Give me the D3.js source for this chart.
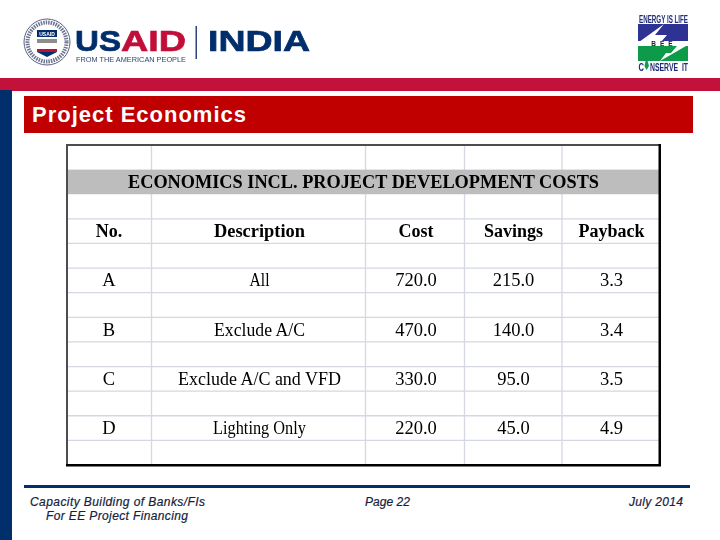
<!DOCTYPE html>
<html>
<head>
    <meta charset="UTF-8">
    <title>Project Economics</title>
    <script src="https://d3js.org/d3.v7.min.js"></script>
    <style type="text/css">
        html, body { margin: 0; padding: 0; background: #fff; }
        svg { display: block; }
        .sans { font-family: "Liberation Sans", Arial, sans-serif; }
        .serif { font-family: "Liberation Serif", "Times New Roman", serif; }
    </style>
</head>
<body>
    <svg id="slide"></svg>

    <script>
        const slideTitle = "Project Economics";
        const tableTitle = "ECONOMICS INCL. PROJECT DEVELOPMENT COSTS";
        const columns = ["No.", "Description", "Cost", "Savings", "Payback"];
        const ids = ["A", "B", "C", "D"];
        const descriptions = ["All", "Exclude A/C", "Exclude A/C and VFD", "Lighting Only"];
        const costs = [720.0, 470.0, 330.0, 220.0];
        const savings = [215.0, 140.0, 95.0, 45.0];
        const paybacks = [3.3, 3.4, 3.5, 4.9];
        const footerLeft = ["Capacity Building of Banks/FIs", "For EE Project Financing"];
        const footerPage = "Page 22";
        const footerDate = "July 2014";

        const navy = "#002f6c";
        const usaidRed = "#c2113a";
        const beeBlue = "#2e3192";
        const beeGreen = "#0f9b4a";

        const svg = d3.select("#slide").attr("width", 720).attr("height", 540);
        svg.append("rect").attr("width", 720).attr("height", 540).attr("fill", "#fff");

        // the original is a scanned-looking slide image, so soften logos and table a bit
        svg.append("defs").append("filter").attr("id", "soft")
            .attr("x", "-5%").attr("y", "-5%").attr("width", "110%").attr("height", "110%")
            .append("feGaussianBlur").attr("stdDeviation", 0.35);

        const addRect = (parent, x, y, w, h, fill) => parent.append("rect")
            .attr("x", x).attr("y", y).attr("width", w).attr("height", h).attr("fill", fill);

        // slide frame
        addRect(svg, 0, 78, 720, 13, usaidRed);
        addRect(svg, 0, 90, 12, 450, navy);
        addRect(svg, 24, 96, 669, 37, "#c00000");
        svg.append("text").attr("class", "sans")
            .attr("x", 32).attr("y", 122)
            .attr("font-size", 22).attr("font-weight", "bold")
            .attr("fill", "#fff").attr("textLength", 214)
            .text(slideTitle);

        // USAID logo
        const logo = svg.append("g").attr("filter", "url(#soft)");
        logo.append("circle").attr("cx", 47).attr("cy", 42).attr("r", 23)
            .attr("fill", "#fff").attr("stroke", "#55607f").attr("stroke-width", 1);
        logo.append("circle").attr("cx", 47).attr("cy", 42).attr("r", 19.5)
            .attr("fill", "none").attr("stroke", "#6d7490").attr("stroke-width", 4)
            .attr("stroke-dasharray", "1.5 1");
        addRect(logo, 37, 30, 20, 7, navy);
        logo.append("text").attr("class", "sans")
            .attr("x", 47).attr("y", 35.5).attr("text-anchor", "middle")
            .attr("font-size", 5).attr("font-weight", "bold").attr("fill", "#fff")
            .text("USAID");
        addRect(logo, 37, 39, 20, 4, "#8d8d8d");
        addRect(logo, 37, 49, 20, 3, usaidRed);
        logo.append("path").attr("d", "M37,52 H57 L47,57 Z").attr("fill", navy);

        const wordmark = (text, x, width, fill) => logo.append("text").attr("class", "sans")
            .attr("x", x).attr("y", 50.5).attr("font-size", 30).attr("font-weight", "bold")
            .attr("fill", fill).attr("stroke", fill).attr("stroke-width", 0.7)
            .attr("textLength", width).attr("lengthAdjust", "spacingAndGlyphs")
            .text(text);
        wordmark("US", 75, 46, navy);
        wordmark("AID", 121, 65, usaidRed);
        wordmark("INDIA", 208, 102, navy);
        logo.append("text").attr("class", "sans")
            .attr("x", 76).attr("y", 62).attr("font-size", 7)
            .attr("fill", "#2d4474").attr("textLength", 110).attr("lengthAdjust", "spacingAndGlyphs")
            .text("FROM THE AMERICAN PEOPLE");
        addRect(logo, 195.5, 26, 1.5, 33, "#2d4474");

        // BEE logo
        const bee = svg.append("g").attr("filter", "url(#soft)");
        const beeText = (text, x, y, size, width) => bee.append("text").attr("class", "sans")
            .attr("x", x).attr("y", y).attr("font-size", size).attr("font-weight", "bold")
            .attr("fill", "#1f2a78").attr("textLength", width).attr("lengthAdjust", "spacingAndGlyphs")
            .style("white-space", "pre")
            .text(text);
        beeText("ENERGY IS LIFE", 639, 23, 10, 49);
        addRect(bee, 638, 24, 50, 18, beeBlue);
        addRect(bee, 638, 46, 50, 15, beeGreen);
        bee.append("path").attr("d", "M664,24 L639,42 L661,42 L667,35 L655,35 Z").attr("fill", "#fff");
        bee.append("path").attr("d", "M677,46 L671,53 L666,53 L660,61 L686,46 Z").attr("fill", "#fff");
        addRect(bee, 638, 41, 50, 5, "#fff");
        bee.append("text").attr("class", "sans")
            .attr("x", 664).attr("y", 46).attr("text-anchor", "middle")
            .attr("font-size", 6.5).attr("font-weight", "bold").attr("fill", "#222")
            .attr("letter-spacing", 4).text("BEE");
        beeText("C", 638.5, 71, 11, 5.5);
        beeText("NSERVE  IT", 650, 71, 11, 38);
        bee.append("path").attr("d", "M646.5,57 L649,66 L646.5,70 L644.5,66 Z").attr("fill", beeGreen);

        // table, one row step is half a data row
        const tableLeft = 67, tableRight = 660, tableTop = 145, tableBottom = 465;
        const y = d3.scaleLinear().domain([0, 13]).range([tableTop, tableBottom]);
        const colEdges = [tableLeft, 151.5, 365.5, 464.5, 562, tableRight];
        const colCenter = i => [109, 259.5, 416, 513.5, 611.5][i];
        // widths of the texts that ran tighter in the original
        const fitWidth = {
            "All": 20, "Exclude A/C": 91, "Exclude A/C and VFD": 163, "Lighting Only": 93, "Description": 91
        };
        const fit = sel => sel.each(function (d) {
            if (fitWidth[d]) {
                d3.select(this).attr("textLength", fitWidth[d]).attr("lengthAdjust", "spacingAndGlyphs");
            }
        });

        const table = svg.append("g").attr("filter", "url(#soft)");
        addRect(table, tableLeft, tableTop, tableRight - tableLeft, tableBottom - tableTop, "#fff");

        table.selectAll(".hline").data(d3.range(3, 13)).enter().append("line")
            .attr("class", "hline")
            .attr("x1", tableLeft).attr("x2", tableRight)
            .attr("y1", d => y(d)).attr("y2", d => y(d))
            .attr("stroke", "#d5d7e3").attr("stroke-width", 1.3);
        table.selectAll(".vline").data(colEdges.slice(1, 5)).enter().append("line")
            .attr("class", "vline")
            .attr("x1", d => d).attr("x2", d => d)
            .attr("y1", tableTop).attr("y2", tableBottom)
            .attr("stroke", "#d5d7e3").attr("stroke-width", 1.3);
        // the gray title band sits over the grid
        addRect(table, tableLeft, y(1), tableRight - tableLeft, y(2) - y(1), "#bdbdbd");

        // frame: lighter on top and left, heavy on the other two
        addRect(table, 66, 144, 595, 2, "#4d4d4d");
        addRect(table, 66, 144, 2, 322, "#4d4d4d");
        addRect(table, 658.5, 144, 2.5, 322, "#000");
        addRect(table, 66, 464, 595, 2.5, "#000");

        table.append("text").attr("class", "serif")
            .attr("x", 363.5).attr("y", y(1.5) + 6)
            .attr("text-anchor", "middle").attr("font-size", 18).attr("font-weight", "bold")
            .attr("fill", "#000").attr("textLength", 471).attr("lengthAdjust", "spacingAndGlyphs")
            .text(tableTitle);

        table.selectAll(".colhead").data(columns).enter().append("text")
            .attr("class", "colhead serif")
            .attr("x", (d, i) => colCenter(i)).attr("y", y(3.5) + 6)
            .attr("text-anchor", "middle").attr("font-size", 18).attr("font-weight", "bold")
            .attr("fill", "#000")
            .text(d => d)
            .call(fit);

        const rowData = ids.map((id, i) => [
            id, descriptions[i], costs[i].toFixed(1), savings[i].toFixed(1), paybacks[i].toFixed(1)
        ]);
        const rows = table.selectAll(".row").data(rowData).enter().append("g")
            .attr("class", "row")
            .attr("transform", (d, i) => `translate(0,${y(5.5 + i * 2) + 6})`);
        rows.selectAll("text").data(d => d).enter().append("text")
            .attr("class", "serif")
            .attr("x", (d, i) => colCenter(i))
            .attr("text-anchor", "middle").attr("font-size", 18.5)
            .attr("fill", "#000")
            .text(d => d)
            .call(fit);

        // footer
        addRect(svg, 24, 485, 666, 3, navy);
        const footer = svg.append("g").attr("class", "sans")
            .attr("font-size", 12).attr("font-style", "italic").attr("fill", "#14213d")
            .attr("stroke", "#14213d").attr("stroke-width", 0.2);
        footer.append("text").attr("x", 30).attr("y", 506).attr("textLength", 175).text(footerLeft[0]);
        footer.append("text").attr("x", 46).attr("y", 520).attr("textLength", 142).text(footerLeft[1]);
        footer.append("text").attr("x", 365).attr("y", 506).attr("textLength", 45).text(footerPage);
        footer.append("text").attr("x", 629).attr("y", 506).attr("textLength", 54).text(footerDate);
    </script>
</body>
</html>
